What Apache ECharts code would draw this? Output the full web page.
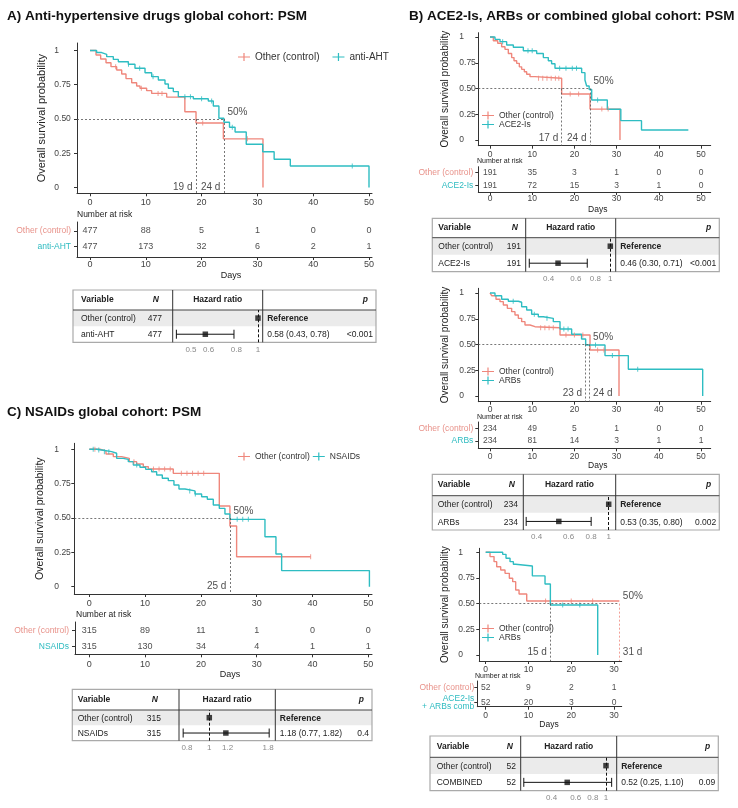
<!DOCTYPE html>
<html><head><meta charset="utf-8">
<script src="https://cdn.jsdelivr.net/npm/echarts@6/dist/echarts.min.js"></script>
<style>html,body{margin:0;padding:0;background:#fff}#c{width:738px;height:808px}</style>
</head><body><div id="c"></div>
<script>
// ================= DATA =================
const dayTicks50 = [0, 10, 20, 30, 40, 50];
const dayTicks30 = [0, 10, 20, 30];
const survTicks = [0, 0.25, 0.5, 0.75, 1];
const survTickLabels = ['0', '0.25', '0.50', '0.75', '1'];
const ctrlName = 'Other (control)';
const forestHeaders = ['Variable', 'N', 'Hazard ratio', 'p'];
const refHR = 1;

// ---- Panel A: anti-hypertensive drugs ----
const aTitle = 'A) Anti-hypertensive drugs global cohort: PSM';
const aTrtName = 'anti-AHT';
const aCtrlCurve = [[0,1],[1.08,0.967],[1.91,0.938],[2.87,0.911],[3.76,0.882],[4.78,0.858],[5.68,0.829],[6.45,0.795],[7.47,0.765],[8.36,0.741],[8.96,0.724],[10.15,0.707],[11.05,0.687],[13.74,0.66],[17.0,0.553],[19.0,0.471],[23.9,0.355],[31.0,0]];
const aTrtCurve = [[0,1],[1.19,0.985],[2.09,0.972],[2.99,0.955],[4.18,0.935],[5.08,0.918],[6.87,0.9],[8.06,0.87],[9.86,0.838],[11.05,0.809],[12.25,0.785],[13.44,0.755],[14.04,0.724],[14.93,0.7],[15.83,0.663],[18.52,0.648],[21.2,0.631],[22.1,0.595],[23.1,0.505],[24.0,0.476],[25.0,0.44],[26.0,0.405],[28.0,0.316],[30.95,0.261],[33.0,0.206],[35.9,0.157],[50.0,0]];
const aCtrlCens = [4.6, 9.2, 12.2, 12.9, 20.2, 28.2];
const aTrtCens = [6.9, 8.9, 11.3, 17, 18, 20, 21.8, 25.5, 47];
const aRiskCtrl = [477, 88, 5, 1, 0, 0];
const aRiskTrt = [477, 173, 32, 6, 2, 1];
const aRiskRows = ['Other (control)', 'anti-AHT'];
const aMedians = [19.0, 24.0];
const aMedLabels = ['19 d', '24 d'];
const aFRows = ['Other (control)', 'anti-AHT'];
const aFN = [477, 477];
const aFEst = ['Reference', '0.58 (0.43, 0.78)'];
const aFP = ['', '<0.001'];
const aHR = [0.58, 0.43, 0.78];
const aHRTicks = [0.5, 0.6, 0.8, 1];

// ---- Panel B1: ACE2-Is ----
const bTitle = 'B) ACE2-Is, ARBs or combined global cohort: PSM';
const b1TrtName = 'ACE2-Is';
const b1CtrlCurve = [[0,1],[0.79,0.964],[1.82,0.94],[2.76,0.906],[3.55,0.88],[4.34,0.84],[5.13,0.8],[5.69,0.77],[6.32,0.744],[6.95,0.71],[7.5,0.686],[8.14,0.663],[8.69,0.638],[9.48,0.615],[10.66,0.6],[16.98,0.447],[23.7,0.3],[30.8,0]];
const b1TrtCurve = [[0,1],[1.18,0.977],[2.37,0.955],[3.95,0.922],[5.53,0.9],[7.9,0.867],[11.06,0.84],[12.64,0.8],[13.82,0.77],[14.6,0.74],[15.4,0.696],[21.72,0.654],[22.5,0.583],[22.9,0.524],[23.5,0.49],[24.1,0.388],[27.8,0.298],[31.0,0.188],[35.9,0.097],[47.0,0.097]];
const b1CtrlCens = [11.5, 12.5, 13.5, 14.5, 15.5, 16.3, 19, 21, 26.5, 28];
const b1TrtCens = [3, 9, 10, 16.5, 18, 19.5, 20.5, 25.5];
const b1RiskCtrl = [191, 35, 3, 1, 0, 0];
const b1RiskTrt = [191, 72, 15, 3, 1, 0];
const b1RiskRows = ['Other (control)', 'ACE2-Is'];
const b1Medians = [17.0, 23.7];
const b1MedLabels = ['17 d', '24 d'];
const b1FRows = ['Other (control)', 'ACE2-Is'];
const b1FN = [191, 191];
const b1FEst = ['Reference', '0.46 (0.30, 0.71)'];
const b1FP = ['', '<0.001'];
const b1HR = [0.46, 0.30, 0.71];
const b1HRTicks = [0.4, 0.6, 0.8, 1];

// ---- Panel B2: ARBs ----
const b2TrtName = 'ARBs';
const b2CtrlCurve = [[0,1],[0.39,0.974],[1.42,0.94],[2.37,0.916],[3.16,0.883],[4.11,0.851],[5.13,0.819],[5.92,0.786],[6.71,0.754],[7.5,0.722],[8.29,0.689],[9.48,0.673],[10.66,0.663],[16.59,0.592],[23.7,0.447],[30.57,0]];
const b2TrtCurve = [[0,1],[1.18,0.974],[2.76,0.94],[4.34,0.92],[6.71,0.91],[7.5,0.867],[8.69,0.835],[9.87,0.793],[11.45,0.77],[12.64,0.754],[15.0,0.722],[16.59,0.65],[19.35,0.6],[21.7,0.553],[22.67,0.495],[27.25,0.392],[32.78,0.259],[50.4,0]];
const b2CtrlCens = [12, 13, 14, 15, 18, 20, 22, 25.5, 27];
const b2TrtCens = [5.5, 10.5, 13.5, 17.5, 18.5, 25, 29, 35];
const b2RiskCtrl = [234, 49, 5, 1, 0, 0];
const b2RiskTrt = [234, 81, 14, 3, 1, 1];
const b2RiskRows = ['Other (control)', 'ARBs'];
const b2Medians = [22.67, 23.6];
const b2MedLabels = ['23 d', '24 d'];
const b2FRows = ['Other (control)', 'ARBs'];
const b2FN = [234, 234];
const b2FEst = ['Reference', '0.53 (0.35, 0.80)'];
const b2FP = ['', '0.002'];
const b2HR = [0.53, 0.35, 0.80];
const b2HRTicks = [0.4, 0.6, 0.8, 1];

// ---- Panel B3: combined ----
const b3TrtName = 'ARBs';
const b3CtrlCurve = [[0,1],[1.01,0.958],[1.95,0.909],[2.57,0.86],[3.51,0.828],[4.52,0.795],[5.53,0.747],[6.31,0.714],[7.01,0.633],[7.8,0.594],[9.59,0.526],[31.25,0.526]];
const b3TrtCurve = [[0,1],[3.97,0.98],[4.75,0.942],[5.69,0.909],[6.47,0.883],[7.01,0.867],[10.91,0.77],[13.87,0.692],[15.12,0.487],[26.19,0]];
const b3CtrlCens = [14, 20, 25];
const b3TrtCens = [18, 22];
const b3RiskCtrl = [52, 9, 2, 1];
const b3RiskTrt = [52, 20, 3, 0];
const b3RiskRows = ['Other (control)', 'ACE2-Is\n+ ARBs comb'];
const b3Medians = [15.12, 31.25];
const b3MedLabels = ['15 d', '31 d'];
const b3FRows = ['Other (control)', 'COMBINED'];
const b3FN = [52, 52];
const b3FEst = ['Reference', '0.52 (0.25, 1.10)'];
const b3FP = ['', '0.09'];
const b3HR = [0.52, 0.25, 1.10];
const b3HRTicks = [0.4, 0.6, 0.8, 1];

// ---- Panel C: NSAIDs ----
const cTitle = 'C) NSAIDs global cohort: PSM';
const cTrtName = 'NSAIDs';
const cCtrlCurve = [[0,1],[1.91,0.988],[2.99,0.966],[4.3,0.947],[5.79,0.934],[7.17,0.91],[8.48,0.893],[9.68,0.874],[10.57,0.857],[15.05,0.825],[23.3,0.587],[25.2,0.442],[26.4,0.218],[39.67,0.218]];
const cTrtCurve = [[0,1],[1.31,0.995],[2.21,0.983],[4.0,0.971],[4.9,0.934],[6.09,0.927],[6.99,0.91],[7.89,0.886],[9.08,0.869],[10.1,0.854],[11.17,0.837],[12.07,0.813],[13.08,0.789],[14.16,0.772],[15.17,0.74],[16.07,0.711],[17.14,0.697],[18.94,0.675],[20.13,0.655],[21.15,0.636],[22.22,0.595],[23.3,0.57],[24.31,0.529],[25.2,0.49],[31.48,0.364],[33.45,0.238],[34.47,0.117],[50.2,0]];
const cCtrlCens = [1, 8, 11.5, 12.5, 13.5, 14.5, 16.5, 17.5, 18.5, 19.5, 20.5, 39.67];
const cTrtCens = [0.7, 1.7, 2.7, 3.5, 8.5, 18, 19, 26.5, 27.5, 28.5];
const cRiskCtrl = [315, 89, 11, 1, 0, 0];
const cRiskTrt = [315, 130, 34, 4, 1, 1];
const cRiskRows = ['Other (control)', 'NSAIDs'];
const cMedians = [25.2];
const cMedLabels = ['25 d'];
const cFRows = ['Other (control)', 'NSAIDs'];
const cFN = [315, 315];
const cFEst = ['Reference', '1.18 (0.77, 1.82)'];
const cFP = ['', '0.4'];
const cHR = [1.18, 0.77, 1.82];
const cHRTicks = [0.8, 1, 1.2, 1.8];

// ================= STYLE / LAYOUT =================
const RED = '#EF877C', TEAL = '#2EBDC2', REDT = '#E8928A', TEALT = '#2DBBC0', INK = '#222', AX = '#333';
const FONT = '"Liberation Sans", Arial, Helvetica, sans-serif';
const PLUS = 'path://M0,3.4L12,3.4L12,4.6L0,4.6Z M5.4,0L6.6,0L6.6,8L5.4,8Z';

const grids = [], xAxes = [], yAxes = [], series = [], legends = [], graphics = [];

function addGrid(b, xa, ya) {
  grids.push({left: b.l, top: b.t, width: b.w, height: b.h, containLabel: false, outerBoundsMode: 'none'});
  const i = grids.length - 1; xa.gridIndex = i; ya.gridIndex = i; xAxes.push(xa); yAxes.push(ya); return i;
}
function closestIdx(arr, v) { let b = 0; for (let i = 1; i < arr.length; i++) if (Math.abs(arr[i] - v) < Math.abs(arr[b] - v)) b = i; return b; }
function stepValue(cv, t) { let s = cv[0][1]; for (const p of cv) { if (p[0] <= t) s = p[1]; else break; } return s; }
function txt(x, y, text, size, o) {
  o = o || {};
  const al = o.align || 'left';
  return {type: 'text', x: x, y: y, rotation: o.rot || 0, silent: true, z: 10,
    style: {text: text, x: 0, y: 0, fill: o.color || INK,
      font: (o.italic ? 'italic ' : '') + (o.bold ? 'bold ' : '') + size + 'px ' + FONT,
      textAlign: al, textVerticalAlign: 'middle', align: al, verticalAlign: 'middle'}};
}
function seg(x1, y1, x2, y2, c, w) { return {type: 'line', silent: true, z: 5, shape: {x1, y1, x2, y2}, style: {stroke: c, lineWidth: w}}; }
function dayAxis(L, ticks, fs, margin) {
  return {type: 'value', min: (L.axisX - L.x0) / L.ppd, max: (L.right - L.x0) / L.ppd, splitLine: {show: false},
    axisLine: {show: true, onZero: false, lineStyle: {color: AX, width: 1}},
    axisTick: {show: true, customValues: ticks, length: 3, lineStyle: {color: AX}},
    axisLabel: {customValues: ticks, fontSize: fs, color: '#444', margin: margin, fontFamily: FONT}};
}

function km(L, D) {
  const xMin = (L.axisX - L.x0) / L.ppd;
  const yMin = (L.y0 - L.bottom) / L.ppu, yMax = (L.y0 - L.top) / L.ppu;
  const gi = addGrid({l: L.axisX, t: L.top, w: L.right - L.axisX, h: L.bottom - L.top},
    dayAxis(L, D.ticks, L.fx, L.xm),
    {type: 'value', min: yMin, max: yMax, splitLine: {show: false},
     axisLine: {show: true, onZero: false, lineStyle: {color: AX, width: 1}},
     axisTick: {show: true, customValues: survTicks, length: 3, lineStyle: {color: AX}},
     axisLabel: {customValues: survTicks, formatter: v => survTickLabels[closestIdx(survTicks, v)], align: 'left',
       margin: L.axisX - L.yLabLeft, fontSize: L.fy, color: '#444', fontFamily: FONT}});
  [[ctrlName, D.ctrl, D.ctrlCens, RED], [D.trtName, D.trt, D.trtCens, TEAL]].forEach(([name, cv, cens, col]) => {
    series.push({type: 'line', name: name, xAxisIndex: gi, yAxisIndex: gi, data: cv, step: 'end', showSymbol: false, symbol: 'none',
      lineStyle: {color: col, width: 1.4}, itemStyle: {color: col}, z: 3, silent: true});
    series.push({type: 'scatter', name: name, xAxisIndex: gi, yAxisIndex: gi, data: cens.map(t => [t, stepValue(cv, t)]),
      symbol: 'rect', symbolSize: [1, 5], itemStyle: {color: col}, z: 3, silent: true});
  });
  const mMax = Math.max(...D.medians);
  const ml = [[{coord: [xMin, 0.5]}, {coord: [mMax, 0.5]}]];
  D.medians.forEach((m, i) => {
    const a = {coord: [m, 0.5]};
    if (D.medColors && D.medColors[i]) a.lineStyle = {color: D.medColors[i]};
    ml.push([a, {coord: [m, yMin]}]);
  });
  const lbl = D.medians.map((m, i) => ({value: [m, 0], label: {show: true, formatter: D.medLabels[i], position: D.medSides[i], distance: 3, offset: [0, L.mOff]}}));
  lbl.push({value: [mMax, 0.5], label: {show: true, formatter: '50%', position: 'right', distance: 3, offset: [0, -7]}});
  series.push({type: 'scatter', name: 'lbl', xAxisIndex: gi, yAxisIndex: gi, symbol: 'circle', symbolSize: 1,
    itemStyle: {color: 'transparent'}, silent: true, z: 4, data: lbl,
    label: {fontSize: 10, color: INK, fontFamily: FONT},
    markLine: {silent: true, symbol: 'none', animation: false, label: {show: false},
      lineStyle: {color: '#555', type: [2, 2], width: 0.8}, data: ml}});
  graphics.push(txt(L.nameX, (L.top + L.bottom) / 2, 'Overall survival probability', L.fn, {rot: Math.PI / 2, align: 'center'}));
  legends.push({selectedMode: false, data: [ctrlName, D.trtName], left: L.leg.left, top: L.leg.top, orient: L.leg.orient,
    itemGap: L.leg.gap, itemWidth: 12, itemHeight: 8, icon: PLUS, padding: 0,
    textStyle: {fontSize: L.leg.fs, color: '#333', fontFamily: FONT}});
}

function risk(L, D) {
  const sp = L.row0 - L.row1;
  const yMax = 1 + (L.row1 - L.top) / sp, yMin = -(L.bottom - L.row0) / sp;
  const gi = addGrid({l: L.axisX, t: L.top, w: L.right - L.axisX, h: L.bottom - L.top},
    dayAxis(L, D.ticks, L.fx, L.xm),
    {type: 'value', min: yMin, max: yMax, splitLine: {show: false},
     axisLine: {show: true, onZero: false, lineStyle: {color: AX, width: 1}},
     axisTick: {show: true, customValues: [0, 1], length: 3, lineStyle: {color: AX}},
     axisLabel: {customValues: [0, 1], margin: L.lm,
       formatter: v => v > 0.5 ? '{c|' + D.rows[0] + '}' : D.rows[1].split('\n').map(s => '{t|' + s + '}').join('\n'),
       rich: {c: {color: REDT, fontSize: L.fl, fontFamily: FONT}, t: {color: TEALT, fontSize: L.fl, fontFamily: FONT, lineHeight: L.fl}}}});
  const pts = D.ticks.map((d, i) => [d, 1, D.ctrl[i]]).concat(D.ticks.map((d, i) => [d, 0, D.trt[i]]));
  series.push({type: 'scatter', name: 'risk', xAxisIndex: gi, yAxisIndex: gi, symbol: 'circle', symbolSize: 1,
    itemStyle: {color: 'transparent'}, silent: true, data: pts,
    label: {show: true, position: 'inside', formatter: p => String(p.value[2]), fontSize: L.fn, color: INK, fontFamily: FONT}});
  graphics.push(txt(L.narX, L.narY, 'Number at risk', L.narF));
  graphics.push(txt(L.daysX, L.daysY, 'Days', L.daysF, {align: 'center'}));
}

function forest(F, D) {
  const rowH = (F.boxB - F.headB) / 2, W = F.boxR - F.boxL, fs = 8.5;
  graphics.push({type: 'rect', silent: true, z: 0, shape: {x: F.boxL, y: F.headB, width: W, height: rowH}, style: {fill: '#EBEBEB'}});
  graphics.push({type: 'rect', silent: true, z: 1, shape: {x: F.boxL, y: F.boxT, width: W, height: F.boxB - F.boxT}, style: {fill: 'none', stroke: '#AAAAAA', lineWidth: 1.2}});
  graphics.push(seg(F.boxL, F.headB, F.boxR, F.headB, '#444', 1));
  graphics.push(seg(F.sep1, F.boxT, F.sep1, F.boxB, '#333', 1));
  graphics.push(seg(F.sep2, F.boxT, F.sep2, F.boxB, '#333', 1));
  const hy = (F.boxT + F.headB) / 2;
  graphics.push(txt(F.varX, hy, forestHeaders[0], fs, {bold: true}));
  graphics.push(txt(F.nRight - 3, hy, forestHeaders[1], fs, {bold: true, italic: true, align: 'right'}));
  graphics.push(txt((F.sep1 + F.sep2) / 2, hy, forestHeaders[2], fs, {bold: true, align: 'center'}));
  graphics.push(txt(F.boxR - 8, hy, forestHeaders[3], fs, {bold: true, italic: true, align: 'right'}));
  [0, 1].forEach(r => {
    const y = F.headB + rowH * (r + 0.5) + 0.8;
    graphics.push(txt(F.varX, y, D.rows[r], fs));
    graphics.push(txt(F.nRight, y, String(D.n[r]), fs, {align: 'right'}));
    graphics.push(txt(F.sep2 + 4.5, y, D.est[r], fs, {bold: r === 0}));
    if (D.p[r]) graphics.push(txt(F.boxR - 3, y, D.p[r], fs, {align: 'right'}));
  });
  const lnT = D.ticks.map(Math.log);
  const gi = addGrid({l: F.sep1, t: F.headB, w: F.sep2 - F.sep1, h: F.boxB - F.headB},
    {type: 'value', min: (F.sep1 - F.hr1) / F.k, max: (F.sep2 - F.hr1) / F.k, splitLine: {show: false},
     axisLine: {show: false}, axisTick: {show: false},
     axisLabel: {customValues: lnT, formatter: v => String(D.ticks[closestIdx(lnT, v)]), fontSize: 8, color: '#8a8a8a', margin: 3, fontFamily: FONT}},
    {type: 'value', min: -0.5, max: 1.5, show: false});
  series.push({type: 'custom', name: 'ci', xAxisIndex: gi, yAxisIndex: gi, silent: true, z: 4,
    data: [[Math.log(D.hr[1]), Math.log(D.hr[2]), 0]],
    renderItem: (params, api) => {
      const y = api.value(2), lo = api.coord([api.value(0), y]), hi = api.coord([api.value(1), y]), h = 4.5;
      const st = {stroke: '#111', lineWidth: 1};
      return {type: 'group', children: [
        {type: 'line', shape: {x1: lo[0], y1: lo[1], x2: hi[0], y2: hi[1]}, style: st},
        {type: 'line', shape: {x1: lo[0], y1: lo[1] - h, x2: lo[0], y2: lo[1] + h}, style: st},
        {type: 'line', shape: {x1: hi[0], y1: hi[1] - h, x2: hi[0], y2: hi[1] + h}, style: st}]};
    }});
  series.push({type: 'scatter', name: 'hr', xAxisIndex: gi, yAxisIndex: gi, silent: true, z: 5, symbol: 'rect', symbolSize: 5.5,
    itemStyle: {color: '#111'}, data: [[Math.log(refHR), 1], [Math.log(D.hr[0]), 0]],
    markLine: {silent: true, symbol: 'none', animation: false, label: {show: false},
      lineStyle: {color: '#111', type: [3, 2], width: 1}, data: [{xAxis: Math.log(refHR)}]}});
}

// ================= BUILD =================
graphics.push(txt(7, 16, aTitle, 13.5, {bold: true, color: '#111'}));
graphics.push(txt(409, 16, bTitle, 13.5, {bold: true, color: '#111'}));
graphics.push(txt(7, 412, cTitle, 13.5, {bold: true, color: '#111'}));

// Panel A
km({axisX: 77, right: 372, x0: 90, ppd: 5.58, top: 43, bottom: 193.3, y0: 187.5, ppu: 137, yLabLeft: 54.3, fx: 9, fy: 8.5, xm: 5, mOff: 0, nameX: 42, fn: 11,
    leg: {left: 238, top: 52, orient: 'horizontal', gap: 13, fs: 10}},
   {ticks: dayTicks50, ctrl: aCtrlCurve, trt: aTrtCurve, ctrlCens: aCtrlCens, trtCens: aTrtCens, trtName: aTrtName,
    medians: aMedians, medLabels: aMedLabels, medSides: ['left', 'left']});
risk({axisX: 77, right: 372, x0: 90, ppd: 5.58, top: 222, bottom: 257, row1: 231, row0: 246.7, fx: 9, xm: 3.5, lm: 6, fl: 8.5, fn: 9,
      narX: 77, narY: 215, narF: 8.5, daysX: 231, daysY: 275.3, daysF: 9},
     {ticks: dayTicks50, ctrl: aRiskCtrl, trt: aRiskTrt, rows: aRiskRows});
forest({boxL: 73, boxR: 376, boxT: 290, headB: 310, boxB: 342.3, sep1: 172.7, sep2: 262.7, hr1: 258, k: 96.7, varX: 81, nRight: 162},
       {rows: aFRows, n: aFN, est: aFEst, p: aFP, hr: aHR, ticks: aHRTicks});

// Panel B1
km({axisX: 478.3, right: 710.7, x0: 490, ppd: 4.22, top: 32.7, bottom: 145.7, y0: 140, ppu: 103, yLabLeft: 459.3, fx: 8.5, fy: 8.5, xm: 4, mOff: -2, nameX: 445, fn: 10,
    leg: {left: 482, top: 111, orient: 'vertical', gap: 0, fs: 8.5}},
   {ticks: dayTicks50, ctrl: b1CtrlCurve, trt: b1TrtCurve, ctrlCens: b1CtrlCens, trtCens: b1TrtCens, trtName: b1TrtName,
    medians: b1Medians, medLabels: b1MedLabels, medSides: ['left', 'left']});
risk({axisX: 478.3, right: 710.7, x0: 490, ppd: 4.22, top: 166.7, bottom: 192, row1: 172.7, row0: 185.7, fx: 8.5, xm: 2.2, lm: 5, fl: 8.5, fn: 8.5,
      narX: 477, narY: 160.7, narF: 7, daysX: 597.7, daysY: 210, daysF: 8.5},
     {ticks: dayTicks50, ctrl: b1RiskCtrl, trt: b1RiskTrt, rows: b1RiskRows});
forest({boxL: 432.3, boxR: 719.3, boxT: 218.3, headB: 237.7, boxB: 271.7, sep1: 525.7, sep2: 615.7, hr1: 610.3, k: 67.3, varX: 438.3, nRight: 521},
       {rows: b1FRows, n: b1FN, est: b1FEst, p: b1FP, hr: b1HR, ticks: b1HRTicks});

// Panel B2
km({axisX: 478.3, right: 710.7, x0: 490, ppd: 4.22, top: 288.3, bottom: 401.7, y0: 396, ppu: 103, yLabLeft: 459.3, fx: 8.5, fy: 8.5, xm: 3.3, mOff: -3, nameX: 445, fn: 10,
    leg: {left: 482, top: 367, orient: 'vertical', gap: 0, fs: 8.5}},
   {ticks: dayTicks50, ctrl: b2CtrlCurve, trt: b2TrtCurve, ctrlCens: b2CtrlCens, trtCens: b2TrtCens, trtName: b2TrtName,
    medians: b2Medians, medLabels: b2MedLabels, medSides: ['left', 'right']});
risk({axisX: 478.3, right: 710.7, x0: 490, ppd: 4.22, top: 422, bottom: 448.3, row1: 428.3, row0: 441, fx: 8.5, xm: 3.4, lm: 5, fl: 8.5, fn: 8.5,
      narX: 477, narY: 416.7, narF: 7, daysX: 597.7, daysY: 465.7, daysF: 8.5},
     {ticks: dayTicks50, ctrl: b2RiskCtrl, trt: b2RiskTrt, rows: b2RiskRows});
forest({boxL: 432.3, boxR: 719.3, boxT: 474.3, headB: 495.7, boxB: 530, sep1: 523.3, sep2: 615.7, hr1: 608.7, k: 78.6, varX: 437.7, nRight: 518},
       {rows: b2FRows, n: b2FN, est: b2FEst, p: b2FP, hr: b2HR, ticks: b2HRTicks});

// Panel B3
km({axisX: 479.3, right: 621.7, x0: 485.7, ppd: 4.277, top: 548.3, bottom: 661, y0: 655, ppu: 102.7, yLabLeft: 458.3, fx: 8.5, fy: 8.5, xm: 4, mOff: -3, nameX: 445, fn: 10,
    leg: {left: 482, top: 624, orient: 'vertical', gap: 0, fs: 8.5}},
   {ticks: dayTicks30, ctrl: b3CtrlCurve, trt: b3TrtCurve, ctrlCens: b3CtrlCens, trtCens: b3TrtCens, trtName: b3TrtName,
    medians: b3Medians, medLabels: b3MedLabels, medSides: ['left', 'right'], medColors: [null, RED]});
risk({axisX: 477.3, right: 621.7, x0: 485.7, ppd: 4.277, top: 681, bottom: 706.7, row1: 687.7, row0: 702.7, fx: 8.5, xm: 4, lm: 3, fl: 8.5, fn: 8.5,
      narX: 475, narY: 676, narF: 7, daysX: 549, daysY: 725, daysF: 8.5},
     {ticks: dayTicks30, ctrl: b3RiskCtrl, trt: b3RiskTrt, rows: b3RiskRows});
forest({boxL: 430, boxR: 718.3, boxT: 736, headB: 757.3, boxB: 790.7, sep1: 520.7, sep2: 616.7, hr1: 606, k: 59.3, varX: 436.7, nRight: 516},
       {rows: b3FRows, n: b3FN, est: b3FEst, p: b3FP, hr: b3HR, ticks: b3HRTicks});

// Panel C
km({axisX: 74.3, right: 372, x0: 89.3, ppd: 5.58, top: 443.3, bottom: 594, y0: 586.7, ppu: 137.4, yLabLeft: 54.3, fx: 9, fy: 8.5, xm: 4.8, mOff: 0, nameX: 40, fn: 10.5,
    leg: {left: 238, top: 452, orient: 'horizontal', gap: 3, fs: 8.5}},
   {ticks: dayTicks50, ctrl: cCtrlCurve, trt: cTrtCurve, ctrlCens: cCtrlCens, trtCens: cTrtCens, trtName: cTrtName,
    medians: cMedians, medLabels: cMedLabels, medSides: ['left']});
risk({axisX: 75, right: 372, x0: 89.3, ppd: 5.58, top: 622, bottom: 654.3, row1: 630.7, row0: 646.7, fx: 9, xm: 5.5, lm: 6, fl: 8.5, fn: 9,
      narX: 76, narY: 615, narF: 8.5, daysX: 230, daysY: 674.3, daysF: 9},
     {ticks: dayTicks50, ctrl: cRiskCtrl, trt: cRiskTrt, rows: cRiskRows});
forest({boxL: 72.3, boxR: 372, boxT: 689.3, headB: 710, boxB: 740.7, sep1: 179, sep2: 275.3, hr1: 209.3, k: 100, varX: 77.7, nRight: 161},
       {rows: cFRows, n: cFN, est: cFEst, p: cFP, hr: cHR, ticks: cHRTicks});

const chart = echarts.init(document.getElementById('c'), null, {renderer: 'canvas'});
chart.setOption({
  animation: false,
  backgroundColor: '#fff',
  textStyle: {fontFamily: FONT},
  grid: grids, xAxis: xAxes, yAxis: yAxes, series: series, legend: legends,
  graphic: {elements: graphics}
});
</script></body></html>
